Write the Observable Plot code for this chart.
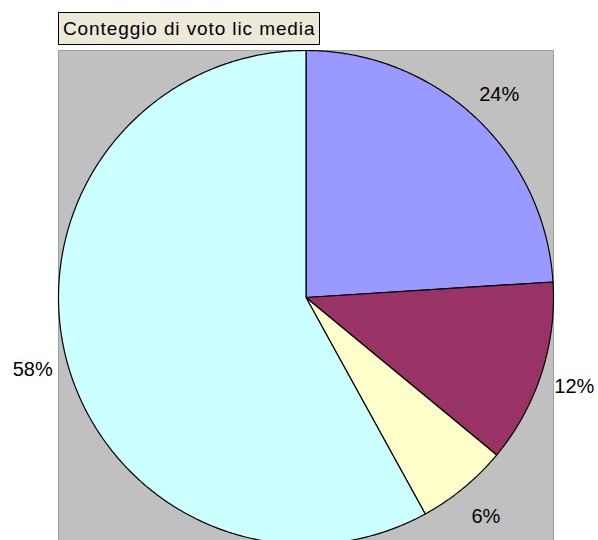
<!DOCTYPE html>
<html>
<head>
<meta charset="utf-8">
<script src="https://cdn.jsdelivr.net/npm/d3@7"></script>
<script src="https://cdn.jsdelivr.net/npm/@observablehq/plot@0.6"></script>
<style>
  html, body { margin: 0; padding: 0; background: #fff; overflow: hidden; }
  #head { height: 50px; position: relative; }
  #title {
    position: absolute; left: 58px; top: 12px;
    height: 31px; line-height: 31px;
    padding: 0 4px;
    background: #ECE9D8; border: 1px solid #000;
    font-family: "Liberation Sans", Arial, sans-serif; font-size: 19px; color: #000;
    letter-spacing: 0.9px;
    white-space: nowrap;
  }
</style>
</head>
<body>
<div id="head"><div id="title">Conteggio di voto lic media</div></div>
<div id="chart"></div>
<script>
// Data: counts per category (clockwise from 12 o'clock)
const categories = ["A", "B", "C", "D"];
const counts = [12, 6, 3, 29];
const percentLabels = ["24%", "12%", "6%", "58%"];
const colors = ["#9999FF", "#993366", "#FFFFCC", "#CCFFFF"];

const pie = d3.pie().sort(null).value(d => d)(counts);

// build slice polygons in unit-circle data space
const slices = [];
pie.forEach((p, i) => {
  const steps = Math.max(2, Math.ceil((p.endAngle - p.startAngle) / (Math.PI / 360)));
  slices.push({cat: categories[i], x: 0, y: 0});
  for (let k = 0; k <= steps; k++) {
    const a = p.startAngle + (p.endAngle - p.startAngle) * k / steps;
    slices.push({cat: categories[i], x: Math.sin(a), y: Math.cos(a)});
  }
});

const labelR = 1.14;
const labels = pie.map((p, i) => {
  const a = (p.startAngle + p.endAngle) / 2;
  return {text: percentLabels[i], x: labelR * Math.sin(a), y: labelR * Math.cos(a)};
});

const H = 490;
const chart = Plot.plot({
  width: 598,
  height: H,
  marginLeft: 58,
  marginRight: 45,
  marginTop: 0,
  marginBottom: 0,
  x: {domain: [-1, 1], axis: null},
  y: {domain: [-(H - 247) / 247, 1], axis: null},
  color: {domain: categories, range: colors},
  style: {fontFamily: "'Liberation Sans', Arial, sans-serif", background: "#fff", overflow: "visible"},
  marks: [
    Plot.frame({fill: "#C0C0C0", stroke: "#a0a0a0"}),
    Plot.line(slices, {x: "x", y: "y", z: "cat", fill: "cat", stroke: "#000", strokeWidth: 1.2, curve: "linear-closed"}),
    Plot.text(labels, {x: "x", y: "y", text: "text", fontSize: 20, fill: "#000", textAnchor: "middle", dy: 2})
  ]
});
document.getElementById("chart").appendChild(chart);
</script>
</body>
</html>
